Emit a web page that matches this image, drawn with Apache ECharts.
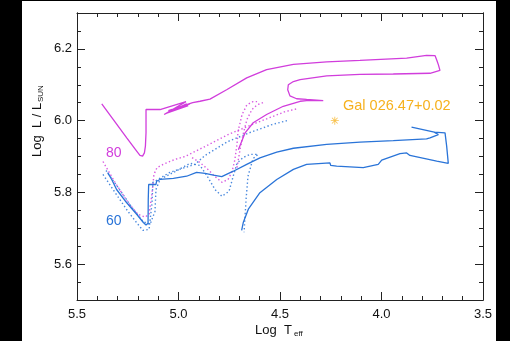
<!DOCTYPE html>
<html>
<head>
<meta charset="utf-8">
<script src="https://cdn.jsdelivr.net/npm/echarts@6/dist/echarts.min.js"></script>
<style>
  html, body { margin: 0; padding: 0; background: #000; }
  #wrap { position: relative; width: 510px; height: 341px; background: #000; }
  #paper { position: absolute; left: 22px; top: 1px; width: 474px; height: 340px; background: #fff; }
  #main { position: absolute; left: 0; top: 0; width: 510px; height: 341px; }
</style>
</head>
<body>
<div id="wrap"><div id="paper"></div><div id="main"></div></div>
<script>
// [log Teff, log L/Lsun]
const track80 = [[5.378,6.047],[5.321,6.003],[5.255,5.952],[5.206,5.915],[5.190,5.903],[5.177,5.901],[5.168,5.910],[5.163,5.929],[5.160,5.966],[5.160,6.031],[5.091,6.031],[4.963,6.053],[5.071,6.017],[4.960,6.047],[5.058,6.021],[4.952,6.042],[5.034,6.026],[4.943,6.047],[5.050,6.028],[4.930,6.050],[4.894,6.054],[4.845,6.060],[4.763,6.086],[4.664,6.119],[4.566,6.142],[4.434,6.157],[4.270,6.164],[4.106,6.168],[3.876,6.174],[3.778,6.182],[3.736,6.181],[3.728,6.169],[3.720,6.156],[3.712,6.140],[3.761,6.132],[3.942,6.130],[4.106,6.129],[4.270,6.125],[4.401,6.114],[4.434,6.109],[4.459,6.100],[4.462,6.086],[4.451,6.069],[4.418,6.061],[4.369,6.059],[4.287,6.056],[4.369,6.056],[4.401,6.054],[4.484,6.040],[4.566,6.017],[4.632,5.994],[4.672,5.966],[4.705,5.919]];
const track60 = [[5.349,5.855],[5.329,5.836],[5.305,5.808],[5.255,5.771],[5.206,5.739],[5.173,5.716],[5.160,5.709],[5.150,5.714],[5.149,5.781],[5.147,5.822],[5.111,5.822],[5.108,5.831],[5.091,5.836],[5.025,5.839],[4.960,5.845],[4.911,5.856],[4.869,5.853],[4.828,5.848],[4.787,5.844],[4.730,5.859],[4.664,5.878],[4.599,5.896],[4.516,5.912],[4.434,5.923],[4.270,5.934],[4.106,5.940],[3.942,5.944],[3.778,5.949],[3.761,5.952],[3.720,5.961],[3.740,5.968],[3.852,5.982],[3.740,5.968],[3.687,5.966],[3.679,5.929],[3.671,5.881],[3.728,5.887],[3.860,5.903],[3.876,5.910],[3.909,5.908],[3.999,5.890],[4.016,5.878],[4.090,5.869],[4.221,5.873],[4.250,5.875],[4.254,5.882],[4.369,5.878],[4.434,5.864],[4.516,5.836],[4.599,5.799],[4.656,5.753],[4.681,5.716],[4.689,5.694]];

const dot80a = [[5.372,5.886],[5.313,5.828],[5.249,5.772],[5.200,5.739],[5.165,5.731],[5.145,5.739],[5.131,5.794],[5.121,5.850],[5.106,5.869],[5.076,5.878],[5.017,5.892],[4.968,5.900],[4.869,5.928],[4.756,5.961],[4.638,5.989],[4.539,6.011],[4.475,6.025],[4.416,6.033]];
const dot80b = [[4.933,5.897],[4.894,5.883],[4.855,5.864],[4.820,5.844],[4.786,5.828],[4.756,5.836],[4.736,5.858],[4.722,5.892],[4.712,5.933],[4.707,5.969],[4.687,6.017],[4.663,6.044],[4.633,6.053],[4.613,6.053]];
const dot80c = [[4.712,5.869],[4.697,5.919],[4.682,5.961],[4.663,6.003],[4.638,6.031],[4.613,6.044],[4.584,6.050]];

const dot60a = [[5.372,5.850],[5.313,5.800],[5.249,5.747],[5.200,5.711],[5.175,5.694],[5.145,5.697],[5.131,5.767],[5.126,5.828],[5.101,5.836],[5.042,5.856],[4.919,5.878],[4.869,5.903],[4.756,5.942],[4.638,5.969],[4.539,5.989],[4.466,6.000]];
const dot60b = [[5.357,5.861],[5.298,5.814],[5.229,5.758],[5.175,5.719],[5.140,5.711],[5.116,5.747],[5.111,5.808],[5.091,5.836],[5.017,5.858],[4.943,5.881],[4.894,5.875],[4.855,5.842],[4.820,5.808],[4.786,5.789],[4.751,5.803],[4.732,5.842],[4.712,5.881],[4.682,5.897],[4.648,5.906],[4.608,5.906],[4.633,5.894],[4.658,5.844],[4.667,5.781],[4.677,5.689]];

const starPoint = [[4.23, 6.00]];
const starName = 'Gal 026.47+0.02';

const xTicks = [3.5, 4.0, 4.5, 5.0, 5.5];
const yMajor = [5.6, 5.8, 6.0, 6.2];
const yMinor = [5.5, 5.55, 5.6, 5.65, 5.7, 5.75, 5.8, 5.85, 5.9, 5.95, 6.0, 6.05, 6.1, 6.15, 6.2, 6.25, 6.3];

const MAG = '#d13ddc';
const BLUE = '#2a74d8';
const GOLD = '#f6b11e';
const FONT = 'Liberation Sans, Arial, Helvetica, sans-serif';
const AX = '#222';

const chart = echarts.init(document.getElementById('main'), null, {renderer: 'canvas'});

function xAx(pos, labels) {
  return {
    type: 'value', position: pos, min: 3.5, max: 5.5, interval: 0.5, inverse: true,
    axisLine: {show: true, onZero: false, lineStyle: {color: AX, width: 1}},
    axisTick: {show: true, inside: true, length: 8, lineStyle: {color: AX}},
    minorTick: {show: true, splitNumber: 5, length: 4, lineStyle: {color: AX}},
    axisLabel: {show: labels, margin: 8, fontSize: 13, fontFamily: FONT, color: '#111',
      formatter: v => v.toFixed(1), customValues: xTicks},
    splitLine: {show: false}, minorSplitLine: {show: false}
  };
}
function yAx(pos, major, labels) {
  return {
    type: 'value', position: pos, min: 5.5, max: 6.3,
    axisLine: {show: true, onZero: false, lineStyle: {color: AX, width: 1}},
    axisTick: {show: true, inside: true, length: major ? 8 : 4, lineStyle: {color: AX},
      customValues: major ? yMajor : yMinor},
    axisLabel: {show: labels, margin: 5, fontSize: 13, fontFamily: FONT, color: '#111',
      formatter: v => v.toFixed(1), customValues: yMajor},
    splitLine: {show: false}
  };
}
function line(data, color, dotted) {
  return {
    type: 'line', data: data, symbol: 'none', showSymbol: false, silent: true,
    lineStyle: {color: color, width: dotted ? 1.4 : 1.3, type: dotted ? [1.4, 2.4] : 'solid', opacity: dotted ? 0.85 : 1}
  };
}

chart.setOption({
  animation: false,
  backgroundColor: 'transparent',
  grid: {left: 77, top: 13, right: 27, bottom: 41, containLabel: false},
  xAxis: [xAx('bottom', true), xAx('top', false)],
  yAxis: [yAx('left', true, true), yAx('left', false, false), yAx('right', true, false), yAx('right', false, false)],
  series: [
    line(dot80a, MAG, true), line(dot80b, MAG, true), line(dot80c, MAG, true),
    line(dot60a, BLUE, true), line(dot60b, BLUE, true),
    line(track80, MAG, false), line(track60, BLUE, false),
    {
      type: 'scatter', data: starPoint, symbolSize: 8, silent: true,
      symbol: 'path://M9,0h2v20h-2z M0,9h20v2h-20z M2.2,3.6l1.4,-1.4l14.2,14.2l-1.4,1.4z M16.4,2.2l1.4,1.4l-14.2,14.2l-1.4,-1.4z',
      itemStyle: {color: GOLD}
    }
  ],
  graphic: [
    {type: 'text', x: 106, y: 153, style: {text: '80', fill: MAG, font: '14px ' + FONT, textVerticalAlign: 'middle'}},
    {type: 'text', x: 106, y: 221, style: {text: '60', fill: BLUE, font: '14px ' + FONT, textVerticalAlign: 'middle'}},
    {type: 'text', x: 343, y: 106, style: {text: starName, fill: GOLD, font: '14.5px ' + FONT, textVerticalAlign: 'middle'}},
    {type: 'text', x: 255, y: 330, style: {text: 'Log  T', fill: '#111', font: '13px ' + FONT, textVerticalAlign: 'middle'}},
    {type: 'text', x: 294, y: 334, style: {text: 'eff', fill: '#111', font: '8px ' + FONT, textVerticalAlign: 'middle'}},
    {type: 'group', x: 37, y: 157, rotation: Math.PI / 2, children: [
      {type: 'text', x: 0, y: 0, style: {text: 'Log  L / L', fill: '#111', font: '13px ' + FONT, textVerticalAlign: 'middle'}},
      {type: 'text', x: 55, y: 4, style: {text: 'SUN', fill: '#111', font: '8px ' + FONT, textVerticalAlign: 'middle'}}
    ]}
  ]
});
</script>
</body>
</html>
